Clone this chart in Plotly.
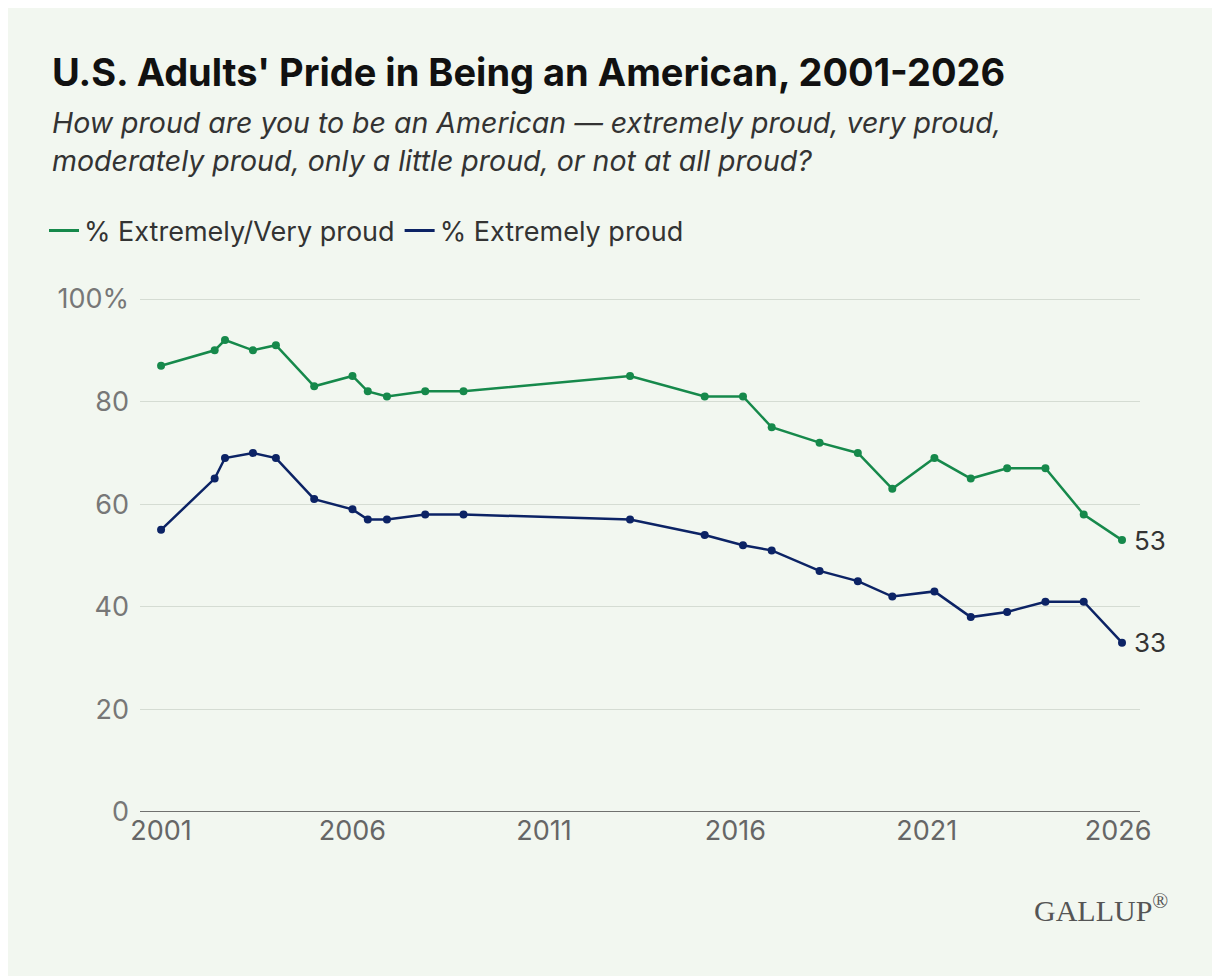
import plotly.graph_objects as go

years = [2001.0, 2002.4, 2002.67, 2003.4, 2004.0, 2005.0, 2006.0, 2006.4, 2006.9, 2007.9, 2008.9,
         2013.25, 2015.2, 2016.2, 2016.95, 2018.2, 2019.2, 2020.1, 2021.2, 2022.15, 2023.1,
         2024.1, 2025.1, 2026.1]
very_proud = [87, 90, 92, 90, 91, 83, 85, 82, 81, 82, 82, 85, 81, 81, 75, 72, 70, 63, 69, 65, 67, 67, 58, 53]
extremely = [55, 65, 69, 70, 69, 61, 59, 57, 57, 58, 58, 57, 54, 52, 51, 47, 45, 42, 43, 38, 39, 41, 41, 33]
tick_years = [2001, 2006, 2011, 2016, 2021, 2026]
y_ticks = [0, 20, 40, 60, 80, 100]
y_labels = ["0", "20", "40", "60", "80", "100%"]
names = ["% Extremely/Very proud", "% Extremely proud"]

GREEN = "#16894b"
NAVY = "#0c2365"
BG = "#f2f7f0"
FONT = "Inter, Roboto, sans-serif"

# screen-pixel -> paper coords (plot spans x 140..1140, y 298..812 on screen)
def px(x):
    return (x - 140) / 1000

def py(y):
    return (812 - y) / 514

fig = go.Figure()
for vals, name, col in ((very_proud, names[0], GREEN), (extremely, names[1], NAVY)):
    fig.add_trace(go.Scatter(x=years, y=vals, mode="lines+markers", name=name, showlegend=False,
                             line=dict(color=col, width=2.5), marker=dict(size=8, color=col)))
for name, col in ((names[0], GREEN), (names[1], NAVY)):
    fig.add_trace(go.Scatter(x=[None], y=[None], mode="lines", name=name, line=dict(color=col, width=3)))
for vals in (very_proud, extremely):
    fig.add_annotation(x=years[-1], y=vals[-1], text=str(vals[-1]), showarrow=False,
                       xanchor="left", xshift=10, font=dict(size=26, color="#333", family=FONT))

fig.update_layout(
    width=1220, height=976, paper_bgcolor=BG, plot_bgcolor=BG,
    margin=dict(l=132, r=88, t=290, b=172),
    font=dict(family=FONT),
    showlegend=True,
    legend=dict(orientation="h", x=px(44), y=py(231), yanchor="middle", xanchor="left",
                font=dict(size=27, color="#333"), bgcolor="rgba(0,0,0,0)", traceorder="normal"),
    xaxis=dict(range=[2000.45, 2026.57], tickvals=tick_years, ticktext=[str(t) for t in tick_years],
               showgrid=False, zeroline=False, tickfont=dict(size=27, color="#666"), ticks="",
               showline=False),
    yaxis=dict(range=[0, 100.2], tickvals=y_ticks, ticktext=y_labels, showgrid=True, gridcolor="#d5dcd3",
               gridwidth=1, zeroline=False, tickfont=dict(size=27, color="#777"), ticks="",
               ticklabelstandoff=10),
)
fig.add_shape(type="line", xref="paper", yref="y", x0=0, x1=1, y0=0, y1=0, line=dict(color="#444", width=1.5))
fig.add_annotation(text="<b>U.S. Adults' Pride in Being an American, 2001-2026</b>", xref="paper", yref="paper",
                   x=px(50), y=py(72), xanchor="left", yanchor="middle", showarrow=False,
                   font=dict(size=38, color="#111", family=FONT))
for txt, yy in (("How proud are you to be an American — extremely proud, very proud,", 122),
                ("moderately proud, only a little proud, or not at all proud?", 160)):
    fig.add_annotation(text="<i>" + txt + "</i>", xref="paper", yref="paper", x=px(50), y=py(yy),
                       xanchor="left", yanchor="middle", align="left", showarrow=False,
                       font=dict(size=28.5, color="#333", family=FONT))
fig.add_annotation(text="GALLUP<sup>®</sup>", xref="paper", yref="paper", x=px(1170), y=py(908),
                   xanchor="right", yanchor="middle", showarrow=False,
                   font=dict(size=30, color="#555", family="Liberation Serif, serif"))
fig.write_html("out.html")
